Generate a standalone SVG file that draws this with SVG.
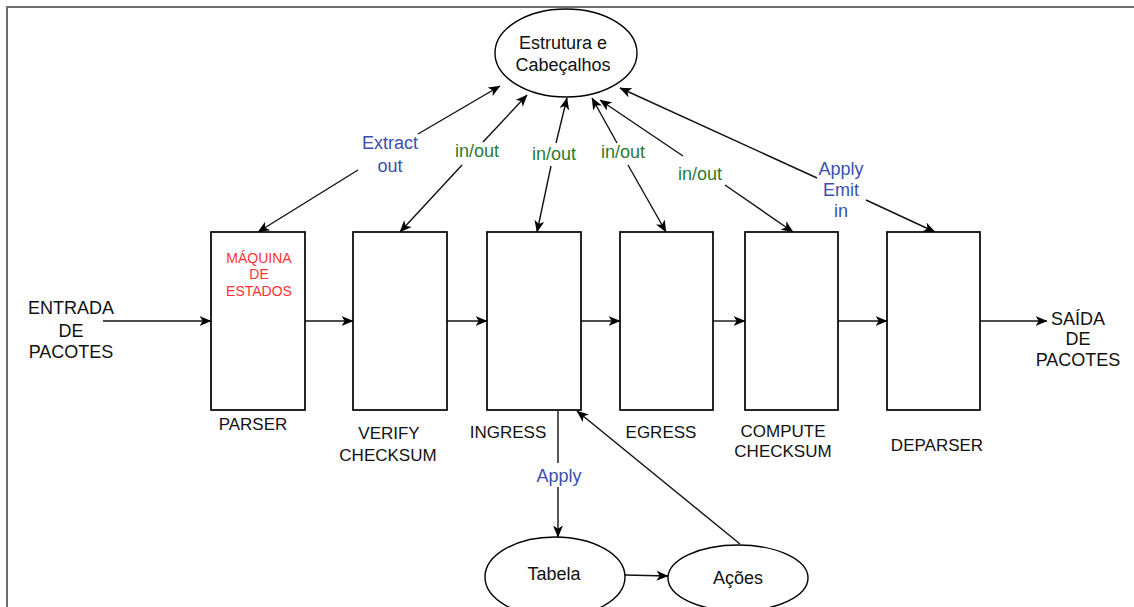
<svg xmlns="http://www.w3.org/2000/svg" width="1134" height="607" viewBox="0 0 1134 607">
  <defs>
    <marker id="arrow" viewBox="0 0 12 10" refX="11.5" refY="5" markerWidth="12" markerHeight="10" markerUnits="userSpaceOnUse" orient="auto-start-reverse">
      <path d="M0,0 L12,5 L0,10 L3.2,5 z" fill="#000"/>
    </marker>
    <style>
      .frame { fill: none; stroke: #6e6e6e; stroke-width: 2; }
      .box { fill: #fff; stroke: #000; stroke-width: 1.7; }
      .oval { fill: #fff; stroke: #000; stroke-width: 1.4; }
      .link { fill: none; stroke: #111; stroke-width: 1.4; }
      .txt { font-family: "Liberation Sans", Arial, sans-serif; font-size: 17px; fill: #111; text-anchor: middle; }
      .big { font-size: 18px; }
      .state { font-family: "Liberation Sans", Arial, sans-serif; font-size: 14px; fill: #ff3333; text-anchor: middle; }
      .blue { font-family: "Liberation Sans", Arial, sans-serif; font-size: 18px; fill: #3a4fae; text-anchor: middle; }
      .green { font-family: "Liberation Sans", Arial, sans-serif; font-size: 18px; fill: #2a7a30; text-anchor: middle; }
    </style>
  </defs>

  <rect width="1134" height="607" fill="#fff"/>
  <path class="frame" d="M7,607 L7,7 L1134,7"/>

  <!-- connectors -->
  <g id="connectors">
    <!-- packet flow through the pipeline -->
    <path class="link" d="M103,321 L211,321" marker-end="url(#arrow)"/>
    <path class="link" d="M305,321 L353,321" marker-end="url(#arrow)"/>
    <path class="link" d="M447,321 L487,321" marker-end="url(#arrow)"/>
    <path class="link" d="M581,321 L620,321" marker-end="url(#arrow)"/>
    <path class="link" d="M713,321 L745,321" marker-end="url(#arrow)"/>
    <path class="link" d="M838,321 L887,321" marker-end="url(#arrow)"/>
    <path class="link" d="M980,321 L1047,321" marker-end="url(#arrow)"/>

    <!-- parser <-> headers (Extract / out) -->
    <path class="link" d="M358,170 L258,232" marker-end="url(#arrow)"/>
    <path class="link" d="M418,134 L500,86" marker-end="url(#arrow)"/>
    <text class="blue" x="390" y="149">Extract</text>
    <text class="blue" x="390" y="172">out</text>

    <!-- verify checksum <-> headers -->
    <path class="link" d="M462,165 L400,232" marker-end="url(#arrow)"/>
    <path class="link" d="M483,142 L527,95" marker-end="url(#arrow)"/>
    <text class="green" x="477" y="157">in/out</text>

    <!-- ingress <-> headers -->
    <path class="link" d="M551,166 L537,232" marker-end="url(#arrow)"/>
    <path class="link" d="M556,143 L567,98" marker-end="url(#arrow)"/>
    <text class="green" x="554" y="160">in/out</text>

    <!-- egress <-> headers -->
    <path class="link" d="M628,165 L666,232" marker-end="url(#arrow)"/>
    <path class="link" d="M617,143 L592,98" marker-end="url(#arrow)"/>
    <text class="green" x="623" y="158">in/out</text>

    <!-- compute checksum <-> headers -->
    <path class="link" d="M725,185 L793,232" marker-end="url(#arrow)"/>
    <path class="link" d="M683,156 L600,100" marker-end="url(#arrow)"/>
    <text class="green" x="700" y="180">in/out</text>

    <!-- deparser <-> headers (Apply / Emit / in) -->
    <path class="link" d="M866,200 L935,232" marker-end="url(#arrow)"/>
    <path class="link" d="M817,178 L620,88" marker-end="url(#arrow)"/>
    <text class="blue" x="841" y="175">Apply</text>
    <text class="blue" x="841" y="196">Emit</text>
    <text class="blue" x="841" y="217">in</text>

    <!-- ingress -> table -> actions -> ingress -->
    <path class="link" d="M558,411 L558,463"/>
    <path class="link" d="M558,487 L558,537" marker-end="url(#arrow)"/>
    <text class="blue" x="559" y="482">Apply</text>
    <path class="link" d="M625,575 L668,576" marker-end="url(#arrow)"/>
    <path class="link" d="M740,544 L577,411" marker-end="url(#arrow)"/>
  </g>

  <!-- header structure -->
  <g id="headers">
    <ellipse class="oval" cx="566" cy="53" rx="71" ry="44"/>
    <text class="txt big" x="563" y="49">Estrutura e</text>
    <text class="txt big" x="563" y="71">Cabeçalhos</text>
  </g>

  <g id="input">
    <text class="txt big" x="71" y="314">ENTRADA</text>
    <text class="txt big" x="71" y="337">DE</text>
    <text class="txt big" x="71" y="358">PACOTES</text>
  </g>

  <g id="parser">
    <rect class="box" x="211" y="232" width="94" height="178"/>
    <text class="state" x="259" y="263">MÁQUINA</text>
    <text class="state" x="259" y="279">DE</text>
    <text class="state" x="259" y="296">ESTADOS</text>
    <text class="txt" x="253" y="430">PARSER</text>
  </g>

  <g id="verify-checksum">
    <rect class="box" x="353" y="232" width="94" height="178"/>
    <text class="txt" x="389" y="439">VERIFY</text>
    <text class="txt" x="388" y="461">CHECKSUM</text>
  </g>

  <g id="ingress">
    <rect class="box" x="487" y="232" width="94" height="178"/>
    <text class="txt" x="508" y="438">INGRESS</text>
  </g>

  <g id="egress">
    <rect class="box" x="620" y="232" width="93" height="178"/>
    <text class="txt" x="661" y="438">EGRESS</text>
  </g>

  <g id="compute-checksum">
    <rect class="box" x="745" y="232" width="93" height="178"/>
    <text class="txt" x="783" y="437">COMPUTE</text>
    <text class="txt" x="783" y="457">CHECKSUM</text>
  </g>

  <g id="deparser">
    <rect class="box" x="887" y="232" width="93" height="178"/>
    <text class="txt" x="937" y="451">DEPARSER</text>
  </g>

  <g id="output">
    <text class="txt big" x="1078" y="325">SAÍDA</text>
    <text class="txt big" x="1078" y="345">DE</text>
    <text class="txt big" x="1078" y="366">PACOTES</text>
  </g>

  <g id="table">
    <ellipse class="oval" cx="555" cy="577" rx="70" ry="40"/>
    <text class="txt big" x="554" y="580">Tabela</text>
  </g>

  <g id="actions">
    <ellipse class="oval" cx="738" cy="578" rx="70" ry="33"/>
    <text class="txt big" x="738" y="584">Ações</text>
  </g>
</svg>
